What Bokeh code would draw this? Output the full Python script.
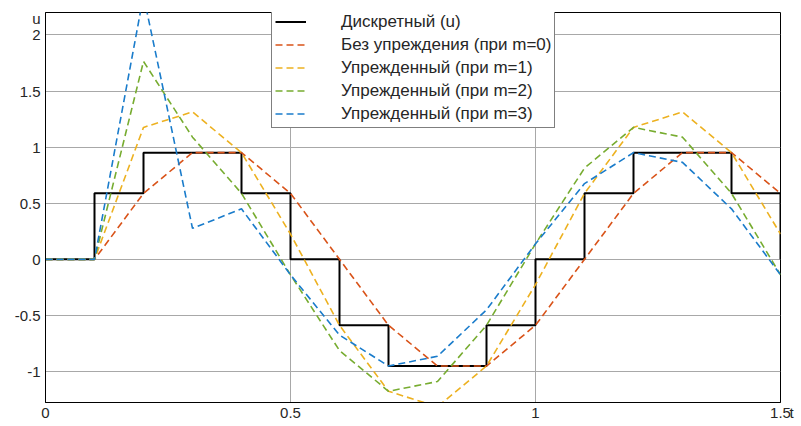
from bokeh.plotting import figure
from bokeh.models import Range1d, FixedTicker, Legend, LegendItem, LinearAxis
from bokeh.embed import file_html
from bokeh.resources import INLINE

# ---- data ----
t = [0.0, 0.1, 0.2, 0.3, 0.4, 0.5, 0.6, 0.7, 0.8, 0.9, 1.0, 1.1, 1.2, 1.3, 1.4, 1.5]
u_disc = [0.0, 0.588, 0.951, 0.951, 0.588, 0.0, -0.588, -0.951, -0.951, -0.588, 0.0, 0.588, 0.951, 0.951, 0.588, 0.0]
m0 = [0.0, 0.0, 0.588, 0.951, 0.951, 0.588, 0.0, -0.588, -0.951, -0.951, -0.588, 0.0, 0.588, 0.951, 0.951, 0.588]
m1 = [0.0, 0.0, 1.176, 1.314, 0.951, 0.225, -0.588, -1.176, -1.314, -0.951, -0.225, 0.588, 1.176, 1.314, 0.951, 0.225]
m2 = [0.0, 0.0, 1.764, 1.089, 0.588, -0.138, -0.813, -1.176, -1.089, -0.588, 0.138, 0.813, 1.176, 1.089, 0.588, -0.138]
m3 = [0.0, 0.0, 2.352, 0.276, 0.450, -0.138, -0.675, -0.951, -0.864, -0.450, 0.138, 0.675, 0.951, 0.864, 0.450, -0.138]

labels = ["Дискретный (u)", "Без упреждения (при m=0)", "Упрежденный (при m=1)",
          "Упрежденный (при m=2)", "Упрежденный (при m=3)"]
x_ticks = [0, 0.5, 1, 1.5]
x_tick_labels = ["0", "0.5", "1", "1.5"]
y_ticks = [-1, -0.5, 0, 0.5, 1, 1.5, 2]
y_tick_labels = ["-1", "-0.5", "0", "0.5", "1", "1.5", "2"]
y_name, y_name_pos = "u", 2.147
x_name, x_name_pos = "t", -1.27

colors = ["#D95319", "#EDB120", "#77AC30", "#1A7CCB"]
FONT = "Liberation Sans"
TXT = "#262626"

p = figure(width=800, height=425, output_backend="svg", toolbar_location=None,
           x_range=Range1d(0, 1.5), y_range=Range1d(-1.276, 2.2),
           min_border_left=45, min_border_right=20, min_border_top=12, min_border_bottom=23)
p.background_fill_color = "white"
p.border_fill_color = "white"
p.outline_line_color = "black"
p.outline_line_width = 1

for ax in (p.xaxis[0], p.yaxis[0]):
    ax.axis_line_color = "black"
    ax.major_tick_out = 0
    ax.major_tick_in = 0
    ax.minor_tick_line_color = None
    ax.major_label_text_font = FONT
    ax.major_label_text_font_size = "15px"
    ax.major_label_text_color = TXT
p.xaxis.ticker = FixedTicker(ticks=x_ticks)
p.yaxis.ticker = FixedTicker(ticks=y_ticks + [y_name_pos])
p.xaxis.major_label_overrides = {k: v for k, v in zip(x_ticks, x_tick_labels)}
yo = {k: v for k, v in zip(y_ticks, y_tick_labels)}
yo[y_name_pos] = y_name
p.yaxis.major_label_overrides = yo
p.xaxis.major_label_standoff = 5
p.yaxis.major_label_standoff = 5

# axis name "t" at the right end of the time axis (second line puts it below the frame edge)
t_axis = LinearAxis(ticker=FixedTicker(ticks=[x_name_pos]),
                    major_label_overrides={x_name_pos: "\n" + x_name},
                    axis_line_color=None, major_tick_line_color=None, minor_tick_line_color=None,
                    major_tick_in=0, major_tick_out=0, major_label_standoff=9,
                    major_label_text_font=FONT, major_label_text_font_size="15px",
                    major_label_text_color=TXT)
p.add_layout(t_axis, "right")

p.xgrid.ticker = FixedTicker(ticks=x_ticks)
p.ygrid.ticker = FixedTicker(ticks=y_ticks)
p.xgrid.grid_line_color = "#a8a8a8"
p.ygrid.grid_line_color = "#a8a8a8"
p.xgrid.grid_line_width = 1
p.ygrid.grid_line_width = 1

r_u = p.step(t, u_disc, mode="after", line_color="black", line_width=2)
rs = [r_u]
for ys, c in zip([m0, m1, m2, m3], colors):
    rs.append(p.line(t, ys, line_color=c, line_width=1.6, line_dash="7 4"))

legend = Legend(items=[LegendItem(label=l, renderers=[r]) for l, r in zip(labels, rs)],
                location=(226, 274))
legend.label_text_font = FONT
legend.label_text_font_size = "17px"
legend.label_text_color = TXT
legend.label_height = 21
legend.glyph_height = 21
legend.glyph_width = 31
legend.label_standoff = 35
legend.spacing = 2
legend.padding = 3
legend.margin = 0
legend.border_line_color = "black"
legend.border_line_width = 1
legend.background_fill_color = "white"
legend.background_fill_alpha = 1
p.add_layout(legend, "center")

open("out.html", "w").write(file_html(p, INLINE))
